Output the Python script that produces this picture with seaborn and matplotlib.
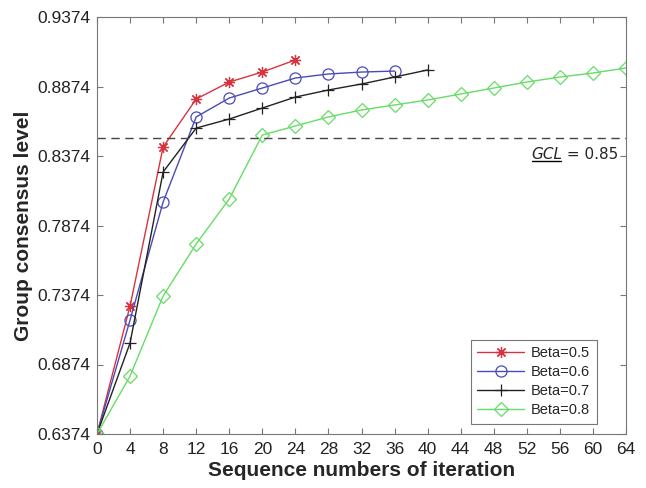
import numpy as np
import pandas as pd
import matplotlib
matplotlib.use("Agg")
import matplotlib.pyplot as plt
import seaborn as sns
from matplotlib.lines import Line2D

# ---- data ----
x_b05 = [0, 4, 8, 12, 16, 20, 24]
y_b05 = [0.6374, 0.7295, 0.8439, 0.8784, 0.8906, 0.8978, 0.9065]

x_b06 = [0, 4, 8, 12, 16, 20, 24, 28, 32, 36]
y_b06 = [0.6374, 0.7194, 0.8043, 0.8655, 0.8791, 0.8863, 0.8935, 0.8964, 0.8978, 0.8985]

x_b07 = [0, 4, 8, 12, 16, 20, 24, 28, 32, 36, 40]
y_b07 = [0.6374, 0.7029, 0.8259, 0.8575, 0.8640, 0.8719, 0.8798, 0.8849, 0.8892, 0.8942, 0.8993]

x_b08 = [0, 4, 8, 12, 16, 20, 24, 28, 32, 36, 40, 44, 48, 52, 56, 60, 64]
y_b08 = [0.6374, 0.6791, 0.7367, 0.7741, 0.8065, 0.8525, 0.8590, 0.8655, 0.8705, 0.8741,
         0.8777, 0.8820, 0.8863, 0.8906, 0.8942, 0.8971, 0.9007]

labels = ["Beta=0.5", "Beta=0.6", "Beta=0.7", "Beta=0.8"]
gcl = 0.85
x_ticks = list(range(0, 65, 4))
y_ticks = [0.6374, 0.6874, 0.7374, 0.7874, 0.8374, 0.8874, 0.9374]

# ---- style ----
sns.set_style("white")
plt.rcParams['font.family'] = ['Liberation Sans', 'DejaVu Sans']

fig = plt.figure(figsize=(6.46, 4.88), dpi=100)
ax = fig.add_axes([97/646, (488-434)/488, (626-97)/646, (434-17)/488])

series = [(x_b05, y_b05), (x_b06, y_b06), (x_b07, y_b07), (x_b08, y_b08)]
colors = ["#d9333f", "#4a4ab8", "#222222", "#66dd66"]
markers = [(8, 2, 0), "o", "+", "D"]
msizes = [8, 8, 9, 7.5]

for (xs, ys), lab, c, m, ms in zip(series, labels, colors, markers, msizes):
    df = pd.DataFrame({"x": xs, "y": ys})
    sns.lineplot(data=df, x="x", y="y", ax=ax, color=c, marker=m, markersize=ms,
                 markerfacecolor="none", markeredgecolor=c, markeredgewidth=0.9,
                 linewidth=1.0, label=lab)

ax.axhline(gcl, color="#444444", linestyle=(0, (6, 4)), linewidth=1.0)
t_val = ax.text(63.1, gcl - 0.006, " = 0.85", ha="right", va="top",
                fontsize=11, family="DejaVu Sans")

ax.set_xlim(0, 64)
ax.set_ylim(0.6374, 0.9374)
ax.set_xticks(x_ticks)
ax.set_yticks(y_ticks)
ax.set_yticklabels([f"{v:.4f}" for v in y_ticks])
ax.tick_params(direction="in", length=4, labelsize=12.5, top=True, right=True,
               bottom=True, left=True, color="#777777", labelcolor="#222222")
ax.tick_params(axis="x", pad=6)
ax.tick_params(axis="y", pad=5)
for s in ax.spines.values():
    s.set_color("#777777")
    s.set_linewidth(0.8)

ax.set_xlabel("Sequence numbers of iteration", fontsize=15, fontweight="bold", labelpad=3)
ax.set_ylabel("Group consensus level", fontsize=15, fontweight="bold", labelpad=3)

leg = ax.legend(loc="lower right", bbox_to_anchor=(0.945, 0.024), borderaxespad=0,
                fontsize=10.5, frameon=True, fancybox=False, edgecolor="#555555",
                handlelength=3.2, handletextpad=0.5, borderpad=0.45, labelspacing=0.35)
leg.get_frame().set_linewidth(0.8)

# italic, underlined "GCL" placed just left of " = 0.85"
fig.canvas.draw()
r = fig.canvas.get_renderer()
bb = t_val.get_window_extent(r)
inv = ax.transData.inverted()
x_left_data = inv.transform((bb.x0, bb.y1))[0]
t_gcl = ax.text(x_left_data, gcl - 0.006, "GCL", ha="right", va="top",
                fontsize=11, family="DejaVu Sans", style="italic")
fig.canvas.draw()
bb2 = t_gcl.get_window_extent(r)
uy = bb2.y0 + 1
fig.add_artist(Line2D([bb2.x0 + 1, bb2.x1 - 1], [uy, uy], transform=None,
                      color="black", linewidth=1.0))

fig.savefig("out.png", dpi=100)
